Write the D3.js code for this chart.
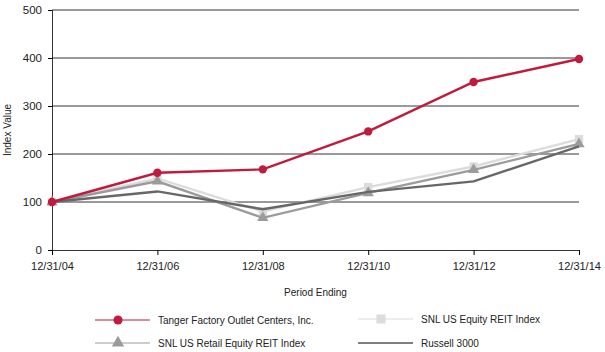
<!DOCTYPE html>
<html>
<head>
<meta charset="utf-8">
<script src="https://cdn.jsdelivr.net/npm/d3@7"></script>
<style>
  body { margin: 0; background: #fff; }
  text { font-family: "Liberation Sans", Arial, sans-serif; }
</style>
</head>
<body>
<div id="chart"></div>
<script>
const periods = ['12/31/04', '12/31/06', '12/31/08', '12/31/10', '12/31/12', '12/31/14'];
const tanger = [100, 161, 168, 247, 350, 398];
const snlEquity = [100, 149, 80, 131, 174, 231];
const snlRetail = [100, 143, 67, 119, 167, 221];
const russell = [100, 122, 85, 121, 143, 216];
const yTicks = [0, 100, 200, 300, 400, 500];

const series = [
    { name: 'SNL US Equity REIT Index', values: snlEquity, color: '#dcdcdc', symbol: d3.symbolSquare, size: 70 },
    { name: 'SNL US Retail Equity REIT Index', values: snlRetail, color: '#9b9b9b', symbol: d3.symbolTriangle, size: 55 },
    { name: 'Russell 3000', values: russell, color: '#676767', symbol: null },
    { name: 'Tanger Factory Outlet Centers, Inc.', values: tanger, color: '#c01a3c', symbol: d3.symbolCircle, size: 55 }
];

const width = 605, height = 352;
const margin = { top: 10, right: 26, bottom: 102, left: 52 };
const font = '"Liberation Sans", Arial, sans-serif';

const svg = d3.select('#chart').append('svg')
    .attr('width', width)
    .attr('height', height);

const x = d3.scalePoint()
    .domain(periods)
    .range([margin.left, width - margin.right]);

const y = d3.scaleLinear()
    .domain([0, 500])
    .range([height - margin.bottom, margin.top]);

// grid lines
svg.append('g')
    .selectAll('line')
    .data(yTicks.filter(d => d > 0))
    .enter()
    .append('line')
    .attr('x1', margin.left)
    .attr('x2', width - margin.right)
    .attr('y1', d => y(d))
    .attr('y2', d => y(d))
    .attr('stroke', '#000')
    .attr('stroke-width', 0.8);

// y axis
const yAxis = svg.append('g')
    .attr('transform', `translate(${margin.left},0)`)
    .call(d3.axisLeft(y).tickValues(yTicks).tickSize(4).tickPadding(6));
yAxis.select('.domain').attr('stroke', '#000').attr('stroke-width', 0.8);
yAxis.selectAll('.tick line').attr('stroke', '#000');
yAxis.selectAll('text').attr('font-size', 11.5).attr('fill', '#222').attr('font-family', font);

// x axis
const xAxis = svg.append('g')
    .attr('transform', `translate(0,${y(0)})`)
    .call(d3.axisBottom(x).tickSize(5).tickPadding(7));
xAxis.select('.domain').attr('stroke', '#000').attr('stroke-width', 0.8);
xAxis.selectAll('.tick line').attr('stroke', '#000');
xAxis.selectAll('text').attr('font-size', 11).attr('fill', '#222').attr('font-family', font);

// axis titles
svg.append('text')
    .attr('transform', `translate(11,${(y(0) + y(500)) / 2}) rotate(-90)`)
    .attr('text-anchor', 'middle')
    .attr('font-size', 10)
    .attr('fill', '#222')
    .text('Index Value');

svg.append('text')
    .attr('x', (margin.left + width - margin.right) / 2)
    .attr('y', 296)
    .attr('text-anchor', 'middle')
    .attr('font-size', 10)
    .attr('fill', '#222')
    .text('Period Ending');

// lines
const line = d3.line()
    .x((d, i) => x(periods[i]))
    .y(d => y(d));

series.forEach((s) => {
    svg.append('path')
        .datum(s.values)
        .attr('fill', 'none')
        .attr('stroke', s.color)
        .attr('stroke-width', 2.4)
        .attr('d', line);
    if (s.symbol) {
        svg.selectAll(null)
            .data(s.values)
            .enter()
            .append('path')
            .attr('transform', (d, i) => `translate(${x(periods[i])},${y(d)})`)
            .attr('d', d3.symbol().type(s.symbol).size(s.size))
            .attr('fill', s.color);
    }
});

// legend
const legendItems = [
    { s: series[3], lx: 95, ly: 320 },
    { s: series[0], lx: 358, ly: 319 },
    { s: series[1], lx: 95, ly: 343 },
    { s: series[2], lx: 358, ly: 343 }
];
legendItems.forEach(({ s, lx, ly }) => {
    const g = svg.append('g').attr('transform', `translate(${lx},${ly})`);
    g.append('line')
        .attr('x1', 0).attr('x2', 55)
        .attr('stroke', s.name === 'Russell 3000' ? '#000' : s.color)
        .attr('stroke-width', 1.2);
    if (s.symbol) {
        g.append('path')
            .attr('transform', 'translate(23,0)')
            .attr('d', d3.symbol().type(s.symbol).size(s.size * 1.2))
            .attr('fill', s.color);
    }
    g.append('text')
        .attr('x', 63)
        .attr('y', 4)
        .attr('font-size', 10)
        .attr('fill', '#222')
        .text(s.name);
});
</script>
</body>
</html>
